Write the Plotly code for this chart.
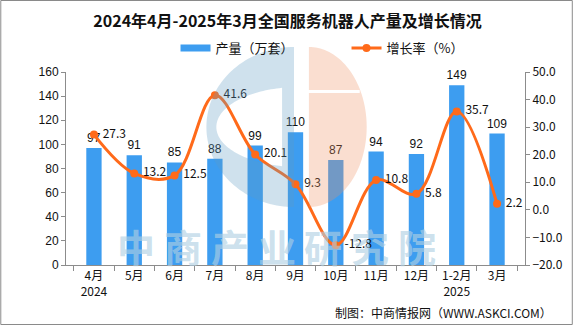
import numpy as np
import plotly.graph_objects as go

# ---- data ----
months = ["4月", "5月", "6月", "7月", "8月", "9月", "10月", "11月", "12月", "1-2月", "3月"]
years = ["2024", "", "", "", "", "", "", "", "", "2025", ""]
output_10k_sets = [97, 91, 85, 88, 99, 110, 87, 94, 92, 149, 109]
growth_pct = [27.3, 13.2, 12.5, 41.6, 20.1, 9.3, -12.8, 10.8, 5.8, 35.7, 2.2]

tick_text = [m + ("<br>" + y if y else "") for m, y in zip(months, years)]

W, H = 575, 326
L, R, T, B = 66, 527, 72, 265  # plot area in pixels


def px(x):
    return (x - L) / (R - L)


def py(y):
    return (B - y) / (B - T)


def path_from(points_list):
    parts = []
    for pts in points_list:
        s = "M " + " L ".join(f"{px(x):.5f},{py(y):.5f}" for x, y in pts) + " Z"
        parts.append(s)
    return " ".join(parts)


def half_ellipse(cx, cy, rx, ry, side, n=80):
    # side = -1 -> left half, +1 -> right half
    t = np.linspace(-np.pi / 2, np.pi / 2, n)
    return [(cx + side * rx * np.cos(a), cy + ry * np.sin(a)) for a in t]


def ellipse_part(cx, cy, rx, ry, xmax, n=80):
    # portion of an ellipse lying left of x = xmax
    a0 = np.arccos((xmax - cx) / rx)
    t = np.linspace(a0, 2 * np.pi - a0, n)
    return [(cx + rx * np.cos(a), cy + ry * np.sin(a)) for a in t]


FONT_CN = "Noto Sans CJK SC"
FONT_NUM = "Liberation Sans, Arial"
BAR_COLOR = "#3d9df0"
LINE_COLOR = "#ff6a1a"
AXIS_COLOR = "#8c8c8c"

fig = go.Figure()

fig.add_trace(go.Bar(
    x=months, y=output_10k_sets, name="产量（万套）", showlegend=False,
    marker=dict(color=BAR_COLOR, line=dict(width=0)),
    text=output_10k_sets, texttemplate="%{text}", textposition="outside",
    constraintext="none",
    textfont=dict(family=FONT_NUM, size=12, color="#111"),
    cliponaxis=False, hoverinfo="skip",
))
# legend key for the bars: a wide flat swatch
fig.add_trace(go.Scatter(
    x=[None], y=[None], name="产量（万套）", mode="lines",
    line=dict(color=BAR_COLOR, width=7), hoverinfo="skip",
))

fig.add_trace(go.Scatter(
    x=months, y=growth_pct, name="增长率（%）", yaxis="y2",
    mode="lines+markers+text",
    line=dict(color=LINE_COLOR, width=3, shape="spline", smoothing=1.0),
    marker=dict(color=LINE_COLOR, size=8),
    text=[f" {v:.1f}" for v in growth_pct], textposition="middle right",
    textfont=dict(family=FONT_CN, size=12, color="#111"),
    cliponaxis=False, hoverinfo="skip",
))

# ---- watermark logo (drawn over the marks, semi-transparent) ----
blue_outer = half_ellipse(295, 127, 88, 80, -1)
blue_hole = ellipse_part(300, 127, 83, 40, 283)
orange_outer = half_ellipse(310, 127, 58, 80, 1)
orange_gap = [(310, 90), (361, 90), (361, 93), (310, 93)]

shapes = [
    dict(type="path", xref="paper", yref="paper", layer="above",
         path=path_from([blue_outer, blue_hole]), fillrule="evenodd",
         fillcolor="rgb(95,155,195)", opacity=0.3, line=dict(width=0)),
    dict(type="path", xref="paper", yref="paper", layer="above",
         path=path_from([orange_outer, orange_gap]), fillrule="evenodd",
         fillcolor="rgb(238,145,98)", opacity=0.3, line=dict(width=0)),
    # outer frame
    dict(type="rect", xref="paper", yref="paper", layer="above",
         x0=px(0.5), x1=px(W - 0.5), y0=py(H - 1.5), y1=py(0.5),
         line=dict(color="#8a8a8a", width=1), fillcolor="rgba(0,0,0,0)"),
]

annotations = []
# watermark wordmark, one glyph per annotation for even spacing
for i, ch in enumerate("中商产业研究院"):
    annotations.append(dict(
        text=f"<b>{ch}</b>", xref="paper", yref="paper",
        x=px(136.5 + 47 * i), y=py(245), xanchor="center", yanchor="middle",
        showarrow=False, borderpad=0,
        font=dict(family=FONT_CN, size=38, color="rgba(175,207,227,0.65)")))

annotations.append(dict(
    text="制图：中商情报网（WWW.ASKCI.COM）", xref="paper", yref="paper",
    x=px(556), y=py(312), xanchor="right", yanchor="middle", showarrow=False,
    font=dict(family=FONT_CN, size=12, color="#111")))

fig.update_layout(
    width=W, height=H,
    margin=dict(l=L, r=W - R, t=T, b=H - B, pad=0),
    paper_bgcolor="white", plot_bgcolor="white",
    title=dict(text="<b>2024年4月-2025年3月全国服务机器人产量及增长情况</b>",
               x=0.5, xanchor="center", xref="container",
               y=1 - 21 / H, yanchor="middle", yref="container",
               font=dict(family=FONT_CN, size=16, color="#111")),
    legend=dict(orientation="h", x=px(176), xanchor="left",
                y=py(48), yanchor="middle",
                font=dict(family=FONT_CN, size=13, color="#111"),
                bgcolor="rgba(0,0,0,0)", itemwidth=30, traceorder="normal",
                entrywidth=126, entrywidthmode="pixels"),
    bargap=0.62,
    xaxis=dict(
        type="category", tickvals=months, ticktext=tick_text,
        showline=True, linecolor=AXIS_COLOR, linewidth=1,
        ticks="outside", tickson="boundaries", ticklen=5, tickcolor=AXIS_COLOR,
        tickfont=dict(family=FONT_CN, size=12, color="#111"),
        showgrid=False, zeroline=False, fixedrange=True,
    ),
    yaxis=dict(
        range=[0, 160], dtick=20, showline=True, linecolor=AXIS_COLOR, linewidth=1,
        ticks="outside", ticklen=4, tickcolor=AXIS_COLOR,
        tickfont=dict(family=FONT_NUM, size=12, color="#111"),
        showgrid=False, zeroline=False, fixedrange=True,
    ),
    yaxis2=dict(
        range=[-20, 50], dtick=10, tickformat=".1f", overlaying="y", side="right",
        showline=True, linecolor=AXIS_COLOR, linewidth=1,
        ticks="outside", ticklen=4, tickcolor=AXIS_COLOR,
        tickfont=dict(family=FONT_CN, size=12, color="#111"),
        showgrid=False, zeroline=False, fixedrange=True,
    ),
    shapes=shapes,
    annotations=annotations,
)

fig.write_html("out.html")
